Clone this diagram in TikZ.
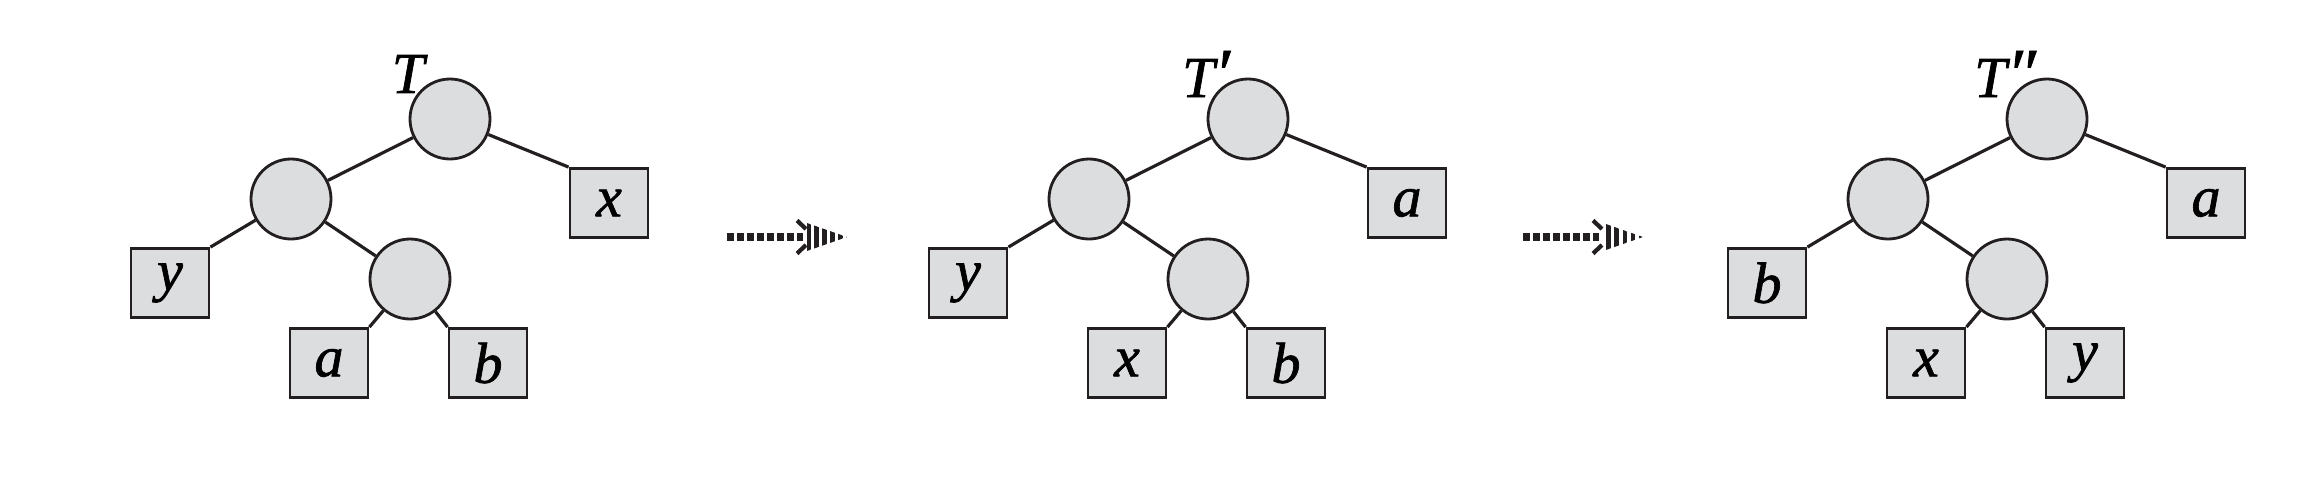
\documentclass[tikz,border=0pt]{standalone}
\usepackage{fontspec}
\setmainfont{Liberation Serif}[ItalicFeatures={FakeBold=1.2}]
\usetikzlibrary{patterns.meta}
\definecolor{nodegray}{RGB}{220,221,223}
\definecolor{inkgray}{RGB}{35,31,32}

\begin{document}
\begin{tikzpicture}
        \tikzstyle{inner}=[circle, draw=inkgray, fill=nodegray, line width=0.8pt, minimum size=0.8cm, inner sep=0pt]
        \tikzstyle{leaf}=[rectangle, draw=inkgray, fill=nodegray, line width=0.8pt, minimum width=0.78cm, minimum height=0.69cm, inner sep=0pt, font=\fontsize{16.5}{19}\selectfont\itshape]
        \tikzstyle{edge}=[draw=inkgray, line width=0.9pt]
        \tikzstyle{label}=[font=\fontsize{16.5}{19}\selectfont\itshape, inner sep=0pt]
        \tikzstyle{shaft}=[draw=inkgray, line width=2.4pt, dash pattern=on 2pt off 0.85pt]
        \tikzstyle{head}=[pattern={Lines[angle=90, distance=2.3pt, line width=1.3pt]}, pattern color=inkgray]
        \tikzstyle{barb}=[draw=inkgray, line width=1.2pt]

        \useasboundingbox (0,0) rectangle (23.12,-5.02);

        \begin{scope}[shift={(4.50,-1.19)}]
            % Inner nodes
            \node (root)[inner] at (0,0) {};
            \node (lft)[inner] at (-1.59,-0.80) {};
            \node (mid)[inner] at (-0.40,-1.60) {};

            % Leaves
            \node (rleaf)[leaf] at (1.59,-0.84) {x};
            \node (lleaf)[leaf] at (-2.80,-1.64) {y};
            \node (aleaf)[leaf] at (-1.21,-2.44) {a};
            \node (bleaf)[leaf] at (0.38,-2.44) {b};

            % Name of the tree
            \node (name)[label] at (-0.42,0.45) {T};

            % Draw the edges
            \draw[edge] (root) -- (lft);
            \draw[edge] (root) -- (rleaf.north west);
            \draw[edge] (lft) -- (lleaf.north east);
            \draw[edge] (lft) -- (mid);
            \draw[edge] (mid) -- (aleaf.north east);
            \draw[edge] (mid) -- (bleaf.north west);
        \end{scope}

        % --- Dotted arrow between them ---
        \begin{scope}[shift={(7.27,-2.37)}]
            \coordinate (tail) at (0,0);
            \coordinate (back) at (0.76,0);
            \coordinate (tip) at (1.20,0);
            \draw[shaft] (tail) -- (back);
            \fill[head] (0.80,0.14) -- (tip) -- (0.80,-0.14) -- cycle;
            \draw[barb] (0.70,0.165) -- (0.79,0.08);
            \draw[barb] (0.70,-0.165) -- (0.79,-0.08);
        \end{scope}

        \begin{scope}[shift={(12.48,-1.19)}]
            % Inner nodes
            \node (root)[inner] at (0,0) {};
            \node (lft)[inner] at (-1.59,-0.80) {};
            \node (mid)[inner] at (-0.40,-1.60) {};

            % Leaves
            \node (rleaf)[leaf] at (1.59,-0.84) {a};
            \node (lleaf)[leaf] at (-2.80,-1.64) {y};
            \node (aleaf)[leaf] at (-1.21,-2.44) {x};
            \node (bleaf)[leaf] at (0.38,-2.44) {b};

            % Name of the tree
            \node (name)[label] at (-0.42,0.45) {T{\fontsize{20}{20}\selectfont′}};

            % Draw the edges
            \draw[edge] (root) -- (lft);
            \draw[edge] (root) -- (rleaf.north west);
            \draw[edge] (lft) -- (lleaf.north east);
            \draw[edge] (lft) -- (mid);
            \draw[edge] (mid) -- (aleaf.north east);
            \draw[edge] (mid) -- (bleaf.north west);
        \end{scope}

        % --- Dotted arrow between them ---
        \begin{scope}[shift={(15.23,-2.37)}]
            \coordinate (tail) at (0,0);
            \coordinate (back) at (0.76,0);
            \coordinate (tip) at (1.20,0);
            \draw[shaft] (tail) -- (back);
            \fill[head] (0.80,0.14) -- (tip) -- (0.80,-0.14) -- cycle;
            \draw[barb] (0.70,0.165) -- (0.79,0.08);
            \draw[barb] (0.70,-0.165) -- (0.79,-0.08);
        \end{scope}

        \begin{scope}[shift={(20.47,-1.19)}]
            % Inner nodes
            \node (root)[inner] at (0,0) {};
            \node (lft)[inner] at (-1.59,-0.80) {};
            \node (mid)[inner] at (-0.40,-1.60) {};

            % Leaves
            \node (rleaf)[leaf] at (1.59,-0.84) {a};
            \node (lleaf)[leaf] at (-2.80,-1.64) {b};
            \node (aleaf)[leaf] at (-1.21,-2.44) {x};
            \node (bleaf)[leaf] at (0.38,-2.44) {y};

            % Name of the tree
            \node (name)[label] at (-0.42,0.45) {T{\fontsize{20}{20}\selectfont″}};

            % Draw the edges
            \draw[edge] (root) -- (lft);
            \draw[edge] (root) -- (rleaf.north west);
            \draw[edge] (lft) -- (lleaf.north east);
            \draw[edge] (lft) -- (mid);
            \draw[edge] (mid) -- (aleaf.north east);
            \draw[edge] (mid) -- (bleaf.north west);
        \end{scope}
    \end{tikzpicture}
\end{document}
